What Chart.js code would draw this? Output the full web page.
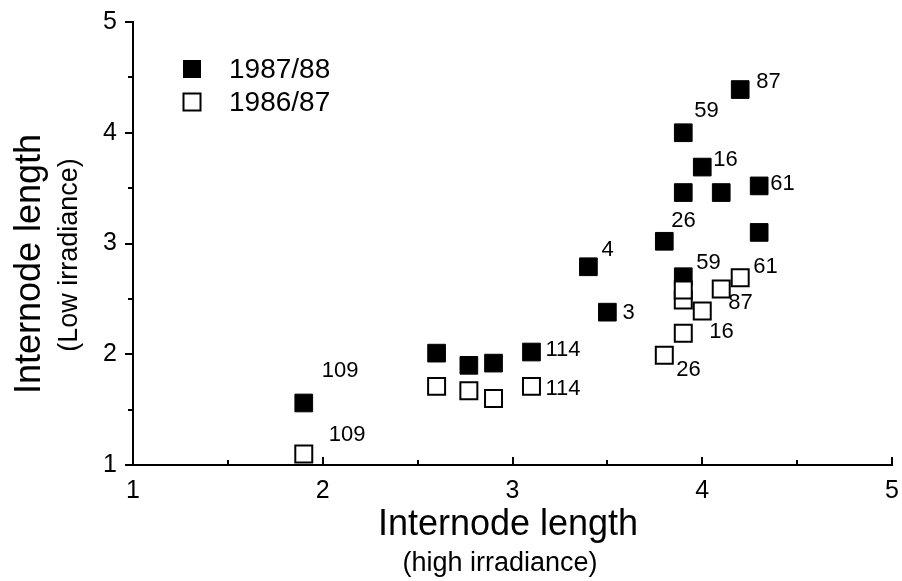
<!DOCTYPE html>
<html>
<head>
<meta charset="utf-8">
<script src="https://cdn.jsdelivr.net/npm/chart.js@4.4.1/dist/chart.umd.min.js"></script>
<style>
html,body{margin:0;padding:0;background:#fff;}
canvas{display:block;}
</style>
</head>
<body>
<canvas id="c" width="902" height="581"></canvas>
<script>
// ---- data ----
const seriesNames = ['1987/88', '1986/87'];
const x8788 = [1.9, 2.6, 2.77, 2.9, 3.1, 3.4, 3.5, 3.8, 3.9, 3.9, 3.9, 4.0, 4.1, 4.2, 4.3, 4.3];
const y8788 = [1.56, 2.01, 1.90, 1.92, 2.02, 2.79, 2.38, 3.02, 2.70, 3.46, 4.0, 3.69, 3.46, 4.39, 3.52, 3.10];
const lab8788 = ['109', '', '', '', '114', '4', '3', '26', '59', '', '59', '16', '', '87', '61', ''];
const x8687 = [1.9, 2.6, 2.77, 2.9, 3.1, 3.8, 3.9, 3.9, 3.9, 4.0, 4.1, 4.2];
const y8687 = [1.10, 1.71, 1.67, 1.60, 1.71, 1.99, 2.19, 2.49, 2.58, 2.39, 2.59, 2.69];
const lab8687 = ['109', '', '', '', '114', '26', '16', '', '', '', '87', '61'];
const xTicks = [1, 2, 3, 4, 5];
const yTicks = [1, 2, 3, 4, 5];
const xTitle = 'Internode length';
const xSubtitle = '(high irradiance)';
const yTitle = 'Internode length';
const ySubtitle = '(Low irradiance)';

// ---- label placement (pixel offsets from the point, style only) ----
const off8788 = [[18,-32],null,null,null,[14,-2],[13,-17],[15,1],[7,-20],[13,-14],null,[11,-22],[11,-7],null,[16,-8],[11,-2],null];
const off8687 = [[25,-19],null,null,null,[14,3],[12,15],[26,-1],null,null,null,[7,14],[13,-11]];

const FONT = '"Liberation Sans", Arial, Helvetica, sans-serif';

function pts(xs, ys) { return xs.map((x, i) => ({x: x, y: ys[i]})); }

const annotate = {
  id: 'annotate',
  afterDraw(chart) {
    const ctx = chart.ctx;
    const xs = chart.scales.x, ys = chart.scales.y;
    const area = chart.chartArea;
    ctx.save();
    ctx.strokeStyle = '#000';
    ctx.lineWidth = 2;
    // inward ticks on x-axis
    for (let v = 1.5; v <= 5.001; v += 0.5) {
      const px = Math.round(xs.getPixelForValue(v));
      const len = Number.isInteger(v) ? 8 : 5;
      ctx.beginPath();
      ctx.moveTo(px, area.bottom);
      ctx.lineTo(px, area.bottom - len);
      ctx.stroke();
    }
    // minor ticks on y-axis (outward)
    for (let v = 1.5; v < 5; v += 1) {
      const py = Math.round(ys.getPixelForValue(v));
      ctx.beginPath();
      ctx.moveTo(area.left, py);
      ctx.lineTo(area.left - 5, py);
      ctx.stroke();
    }
    // point labels
    ctx.fillStyle = '#000';
    ctx.font = '22px ' + FONT;
    ctx.textAlign = 'left';
    ctx.textBaseline = 'middle';
    const put = (xsArr, ysArr, labs, offs) => {
      labs.forEach((t, i) => {
        if (!t) return;
        const o = offs[i] || [12, 0];
        ctx.fillText(t, xs.getPixelForValue(xsArr[i]) + o[0], ys.getPixelForValue(ysArr[i]) + o[1]);
      });
    };
    put(x8788, y8788, lab8788, off8788);
    put(x8687, y8687, lab8687, off8687);

    // legend
    const ds = chart.data.datasets;
    const legendRows = [[ds[1], 69], [ds[0], 102]];
    legendRows.forEach(([d, cy]) => {
      const s = 17;
      ctx.fillStyle = d.backgroundColor;
      ctx.fillRect(192 - s/2, cy - s/2, s, s);
      ctx.strokeStyle = '#000';
      ctx.lineWidth = d.borderWidth;
      ctx.strokeRect(192 - s/2, cy - s/2, s, s);
      ctx.fillStyle = '#000';
      ctx.font = '28px ' + FONT;
      ctx.textAlign = 'left';
      ctx.textBaseline = 'middle';
      ctx.fillText(d.label, 229, cy + 1);
    });

    // axis titles
    ctx.fillStyle = '#000';
    ctx.textAlign = 'center';
    ctx.textBaseline = 'middle';
    ctx.font = '36px ' + FONT;
    ctx.fillText(xTitle, 508, 525);
    ctx.font = '27px ' + FONT;
    ctx.fillText(xSubtitle, 500, 564);

    ctx.save();
    ctx.translate(30, 264);
    ctx.rotate(-Math.PI / 2);
    ctx.font = '36px ' + FONT;
    ctx.fillText(yTitle, 0, 0);
    ctx.restore();
    ctx.save();
    ctx.translate(70, 255);
    ctx.rotate(-Math.PI / 2);
    ctx.font = '27px ' + FONT;
    ctx.fillText(ySubtitle, 0, 0);
    ctx.restore();
    ctx.restore();
  }
};

new Chart(document.getElementById('c'), {
  type: 'scatter',
  data: {
    datasets: [
      {
        label: seriesNames[1],
        data: pts(x8687, y8687),
        pointStyle: 'rect',
        pointRadius: 12,
        pointHoverRadius: 12,
        backgroundColor: '#ffffff',
        borderColor: '#000000',
        borderWidth: 2,
        order: 0
      },
      {
        label: seriesNames[0],
        data: pts(x8788, y8788),
        pointStyle: 'rect',
        pointRadius: 12.5,
        pointHoverRadius: 12.5,
        backgroundColor: '#000000',
        borderColor: '#000000',
        borderWidth: 1,
        order: 1
      }
    ]
  },
  options: {
    responsive: false,
    animation: false,
    devicePixelRatio: 1,
    layout: { autoPadding: false, padding: { top: 22, right: 10, left: 0, bottom: 0 } },
    plugins: { legend: { display: false }, tooltip: { enabled: false } },
    scales: {
      x: {
        type: 'linear',
        min: 1, max: 5,
        afterFit(s) { s.height = 116; s.paddingRight = 0; s.paddingLeft = 0; },
        afterBuildTicks(s) { s.ticks = xTicks.map(v => ({value: v})); },
        border: { display: true, color: '#000', width: 2 },
        grid: { drawOnChartArea: false, drawTicks: false },
        ticks: { color: '#000', font: { family: FONT, size: 25 }, padding: 11, maxRotation: 0 }
      },
      y: {
        type: 'linear',
        min: 1, max: 5,
        afterFit(s) { s.width = 133; s.paddingTop = 0; s.paddingBottom = 0; },
        afterBuildTicks(s) { s.ticks = yTicks.map(v => ({value: v})); },
        border: { display: true, color: '#000', width: 2 },
        grid: { drawOnChartArea: false, drawTicks: true, tickLength: 8, color: '#000', lineWidth: 2 },
        ticks: { color: '#000', font: { family: FONT, size: 25 }, padding: 8 }
      }
    }
  },
  plugins: [annotate]
});
</script>
</body>
</html>
